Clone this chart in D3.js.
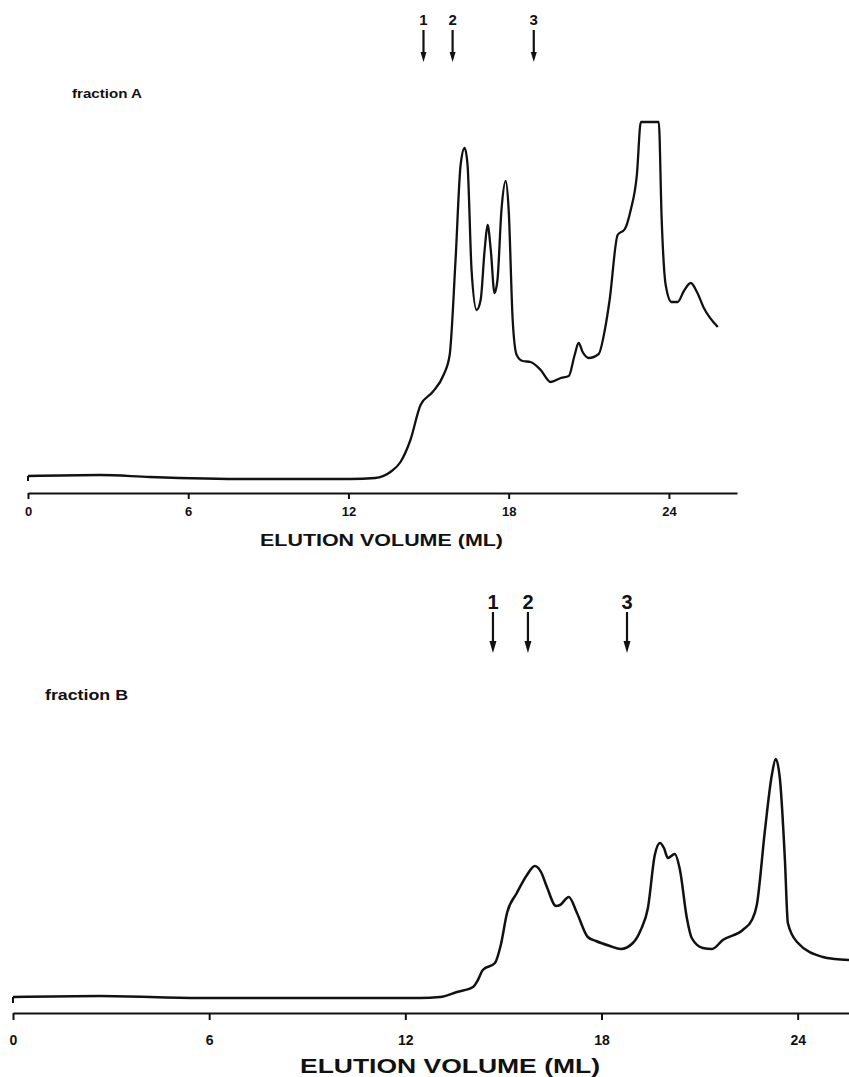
<!DOCTYPE html>
<html>
<head>
<meta charset="utf-8">
<script src="https://cdn.jsdelivr.net/npm/d3@7"></script>
<style>
  body { margin: 0; background: #fff; }
  svg { display: block; }
  text { font-family: "Liberation Sans", Arial, sans-serif; font-weight: bold; fill: #111; }
</style>
</head>
<body>
<div id="chart"></div>
<script>
// Elution profiles, volume in ml and absorbance (relative units)
let volA = [0, 2.7, 4.57, 8.3, 12.07, 13.0, 13.57, 13.95, 14.32, 14.7, 15.15, 15.56, 15.79, 16.01, 16.2, 16.35,
  16.46, 16.61, 16.8, 16.95, 17.1, 17.21, 17.33, 17.47, 17.58, 17.73, 17.89, 18.0, 18.15, 18.3, 18.52, 18.82,
  19.2, 19.57, 19.95, 20.25, 20.47, 20.62, 20.77, 21.0, 21.37, 21.6, 21.78, 22.08, 22.35, 22.57, 22.8, 22.95,
  23.62, 23.73, 23.88, 24.1, 24.33, 24.56, 24.82, 25.05, 25.31, 25.83];
let absA = [4.25, 4.5, 4.0, 3.5, 3.5, 3.75, 5.25, 7.75, 13.25, 22, 25.25, 29.5, 34.5, 58.25, 82, 86.25,
  82, 55.75, 45.75, 48.25, 60.75, 67, 60.75, 50, 53.25, 70.75, 78, 70.75, 43.25, 34.5, 33, 32.75,
  30.75, 27.75, 28.75, 29.25, 34.5, 37.5, 35.25, 33.75, 34.75, 40.75, 48.25, 64.5, 66, 70.75, 79.5, 92.75,
  92.75, 68.25, 52, 47.75, 47.75, 50.5, 52.5, 50.25, 46.25, 41.5];

let volB = [0, 2.66, 5.72, 8.78, 12.45, 13.06, 13.58, 14.07, 14.22, 14.37, 14.74, 14.92, 15.11, 15.41, 15.72,
  15.96, 16.15, 16.33, 16.61, 16.73, 17.0, 17.25, 17.58, 17.83, 18.26, 18.59, 18.96, 19.2, 19.42, 19.63,
  19.79, 19.91, 20.03, 20.24, 20.4, 20.61, 20.76, 21.1, 21.38, 21.71, 22.32, 22.6, 22.75, 23.0, 23.21,
  23.33, 23.46, 23.61, 23.7, 23.98, 24.77, 25.14, 25.57];
let absB = [5.33, 5.67, 5, 5, 5, 5.33, 7, 8.67, 11, 14.33, 16.67, 22.67, 33.33, 40, 46,
  49, 47, 42, 35.67, 36, 38.67, 33.33, 25.33, 24, 22.33, 21.33, 23.33, 27.67, 35, 52.67,
  56.67, 55, 51.67, 53, 47.67, 31.67, 25, 21.67, 21.33, 24.33, 27.67, 31, 36, 61, 79.33,
  84.67, 77.67, 51, 30, 23.67, 18.67, 18, 17.67];

// Calibration markers (elution volume of standards)
let markerLabels = ["1", "2", "3"];
let markersA = [14.81, 15.9, 18.94];
let markersB = [14.68, 15.75, 18.78];

let tickValues = [0, 6, 12, 18, 24];
let axisTitle = "ELUTION VOLUME (ML)";

let width = 849, height = 1077;
let svg = d3.select("#chart").append("svg")
  .attr("width", width)
  .attr("height", height);

// One panel per fraction
function drawPanel(opt) {
  let x = d3.scaleLinear().domain([0, opt.xMax]).range([opt.x0, opt.x1]);
  let y = d3.scaleLinear().domain([0, 100]).range([opt.axisY, opt.axisY - opt.yPx]);
  let g = svg.append("g");

  // axis
  let axis = d3.axisBottom(x)
    .tickValues(tickValues)
    .tickSize(opt.tickSize)
    .tickSizeOuter(0)
    .tickPadding(opt.tickPad);
  let ag = g.append("g")
    .attr("transform", "translate(0," + opt.axisY + ")")
    .call(axis);
  ag.select(".domain").attr("stroke", "#111").attr("stroke-width", 1.8);
  ag.selectAll(".tick line").attr("stroke", "#111").attr("stroke-width", 2);
  ag.selectAll(".tick text")
    .attr("fill", "#111")
    .attr("font-size", opt.tickFont + "px")
    .attr("font-family", "Liberation Sans, Arial, sans-serif")
    .attr("font-weight", "bold");

  g.append("text")
    .attr("x", opt.titleX)
    .attr("y", opt.titleY)
    .attr("font-size", opt.titleFont + "px")
    .attr("textLength", opt.titleLen)
    .attr("lengthAdjust", "spacingAndGlyphs")
    .text(axisTitle);

  g.append("text")
    .attr("x", opt.labelX)
    .attr("y", opt.labelY)
    .attr("font-size", opt.labelFont + "px")
    .attr("textLength", opt.labelLen)
    .attr("lengthAdjust", "spacingAndGlyphs")
    .text(opt.label);

  // elution curve
  let pts = opt.vol.map((v, i) => [v, opt.abs[i]]);
  let line = d3.line()
    .x(d => x(d[0]))
    .y(d => y(d[1]))
    .curve(d3.curveMonotoneX);
  g.append("path")
    .attr("d", line(pts))
    .attr("fill", "none")
    .attr("stroke", "#111")
    .attr("stroke-width", opt.stroke)
    .attr("stroke-linejoin", "round");

  // little start tick at the left end of the trace
  g.append("line")
    .attr("x1", x(0)).attr("x2", x(0))
    .attr("y1", y(opt.abs[0])).attr("y2", y(opt.abs[0]) + opt.tickSize - 1)
    .attr("stroke", "#111").attr("stroke-width", 2);

  // marker arrows
  let m = g.selectAll(".marker")
    .data(opt.markers)
    .enter().append("g")
    .attr("class", "marker")
    .attr("transform", d => "translate(" + x(d) + ",0)");
  m.append("text")
    .attr("text-anchor", "middle")
    .attr("y", opt.markTextY)
    .attr("font-size", opt.markFont + "px")
    .text((d, i) => markerLabels[i]);
  m.append("line")
    .attr("y1", opt.shaft[0]).attr("y2", opt.shaft[1] + 2)
    .attr("stroke", "#111").attr("stroke-width", 2.2);
  m.append("path")
    .attr("d", "M" + (-opt.headW / 2) + "," + opt.shaft[1] + "L" + (opt.headW / 2) + "," + opt.shaft[1] +
      "L0," + opt.headEnd + "Z")
    .attr("fill", "#111");
}

drawPanel({
  vol: volA, abs: absA, markers: markersA, label: "fraction A",
  xMax: 26.55, x0: 28, x1: 737, axisY: 493, yPx: 400,
  tickSize: 6, tickPad: 8, tickFont: 13,
  titleX: 260, titleY: 546, titleFont: 17, titleLen: 243,
  labelX: 72, labelY: 98, labelFont: 12, labelLen: 70,
  stroke: 2.3,
  markTextY: 25, markFont: 15, shaft: [30, 52], headEnd: 62, headW: 6
});

drawPanel({
  vol: volB, abs: absB, markers: markersB, label: "fraction B",
  xMax: 25.57, x0: 13, x1: 849, axisY: 1013, yPx: 300,
  tickSize: 7, tickPad: 15, tickFont: 14,
  titleX: 300, titleY: 1073, titleFont: 21, titleLen: 300,
  labelX: 45, labelY: 700, labelFont: 14, labelLen: 83,
  stroke: 2.5,
  markTextY: 609, markFont: 20, shaft: [612, 641], headEnd: 653, headW: 7
});
</script>
</body>
</html>
